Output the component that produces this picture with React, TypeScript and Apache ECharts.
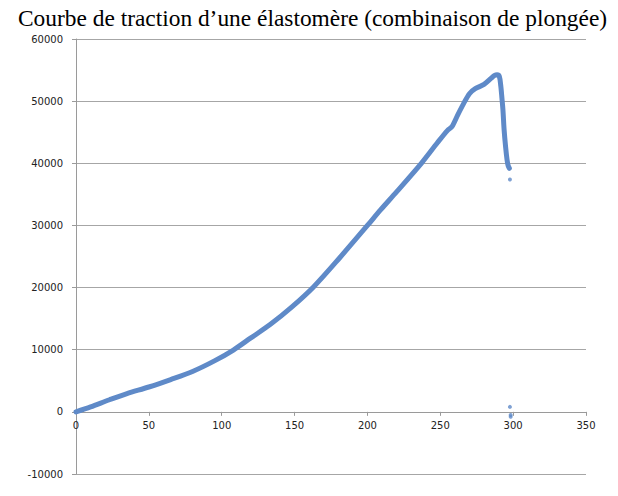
import React, { useEffect, useRef } from "react";
import * as echarts from "echarts";

const titleText = "Courbe de traction d\u2019une élastomère (combinaison de plongée)";

// Main curve (strain, force)
const strain = [0, 10, 23, 35, 50, 65, 80, 95, 108, 120, 133, 148, 163, 181, 200, 209, 220, 237, 248, 255, 258, 262, 266, 270, 274, 280, 285, 287, 289, 290.5, 291.5, 292.3, 293, 293.8, 294.8, 295.8, 296.6, 297.4];
const force = [0, 800, 1950, 2950, 4000, 5200, 6500, 8200, 9950, 11900, 14000, 16850, 20100, 24800, 30000, 32500, 35400, 40000, 43300, 45300, 45900, 47800, 49600, 51200, 52000, 52700, 53700, 54100, 54250, 54000, 52500, 50500, 48600, 45400, 42700, 40600, 39600, 39200];

// Isolated points after rupture
const strayStrain = [297.8, 297.8, 298.3, 298.3];
const strayForce = [37400, 800, -500, -800];

const yTicks = [-10000, 0, 10000, 20000, 30000, 40000, 50000, 60000];
const xTicks = [0, 50, 100, 150, 200, 250, 300, 350];

export default function App() {
  const ref = useRef<HTMLDivElement>(null);
  useEffect(() => {
    if (!ref.current) return;
    const chart = echarts.init(ref.current, null, { renderer: "svg" });
    const color = "#5f8ac8";
    const gridTop = 39;
    const gridBottom = 22;
    const plotH = 496 - gridTop - gridBottom;
    const yMin = yTicks[0];
    const yMax = yTicks[yTicks.length - 1];
    const zeroOffset = -((0 - yMin) / (yMax - yMin)) * plotH;
    chart.setOption({
      animation: false,
      backgroundColor: "#ffffff",
      graphic: [
        {
          type: "text",
          x: 18,
          y: 6,
          style: {
            text: titleText,
            font: "23.4px 'Liberation Serif'",
            fill: "#000",
            align: "left",
            verticalAlign: "top",
          },
        },
      ],
      grid: { left: 76, right: 32, top: gridTop, bottom: gridBottom, containLabel: false },
      xAxis: {
        type: "value",
        min: xTicks[0],
        max: xTicks[xTicks.length - 1],
        interval: 50,
        offset: zeroOffset,
        axisLine: { onZero: false, lineStyle: { color: "#9a9a9a", width: 1 } },
        axisTick: { show: true, length: 4, lineStyle: { color: "#9a9a9a" } },
        axisLabel: { margin: 9, fontFamily: "DejaVu Sans", fontSize: 10, color: "#222", formatter: (v: number) => String(v) },
        splitLine: { show: false },
      },
      yAxis: {
        type: "value",
        min: yMin,
        max: yMax,
        interval: 10000,
        axisLine: { show: true, onZero: false, lineStyle: { color: "#9a9a9a", width: 1 } },
        axisTick: { show: true, length: 4, lineStyle: { color: "#9a9a9a" } },
        axisLabel: { margin: 13, fontFamily: "DejaVu Sans", fontSize: 10, color: "#222", formatter: (v: number) => String(v) },
        splitLine: { show: true, lineStyle: { color: "#a6a6a6", width: 1 } },
      },
      series: [
        {
          type: "line",
          data: strain.map((s, i) => [s, force[i]]),
          showSymbol: false,
          symbol: "none",
          smooth: 0.3,
          lineStyle: { color, width: 5, cap: "round", join: "round" },
          z: 3,
        },
        {
          type: "scatter",
          data: strayStrain.map((s, i) => [s, strayForce[i]]),
          symbolSize: 4,
          itemStyle: { color },
          z: 3,
        },
      ],
    });
    return () => chart.dispose();
  }, []);
  return (
    <div
      ref={ref}
      style={{ position: "fixed", left: 0, top: 0, width: 618, height: 496 }}
    />
  );
}
